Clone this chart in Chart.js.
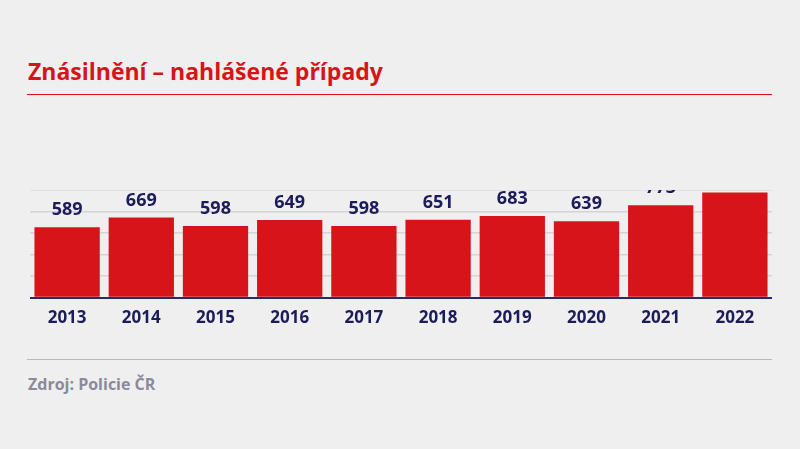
<!DOCTYPE html>
<html><head><meta charset="utf-8">
<script src="https://cdn.jsdelivr.net/npm/chart.js@4"></script>
<style>
body{margin:0;width:800px;height:449px;background:#efefef;position:relative;overflow:hidden;font-family:"Open Sans",sans-serif}
#title{position:absolute;left:28px;top:55px;font-size:23px;font-weight:700;color:#d7141a}
#rule1{position:absolute;left:27px;top:94px;width:745px;height:1px;background:#d7141a}
#rule2{position:absolute;left:27px;top:359px;width:745px;height:1px;background:#b8b8b8}
#src{position:absolute;left:28px;top:373px;font-size:16px;font-weight:700;color:#8a8a9a}
#wrap{position:absolute;left:30px;top:190px;width:742px;height:140px}
</style></head><body>
<div id="title">Znásilnění – nahlášené případy</div>
<div id="rule1"></div>
<div id="wrap"><canvas id="c"></canvas></div>
<div id="rule2"></div>
<div id="src">Zdroj: Policie ČR</div>
<script>
// data
const years = ['2013','2014','2015','2016','2017','2018','2019','2020','2021','2022'];
const cases = [589, 669, 598, 649, 598, 651, 683, 639, 773, 880];

const valueLabels = {
  id: 'valueLabels',
  afterDatasetsDraw(chart) {
    const ctx = chart.ctx;
    const meta = chart.getDatasetMeta(0);
    ctx.save();
    ctx.fillStyle = '#1c1c5a';
    ctx.font = 'bold 18px "Open Sans"';
    ctx.textAlign = 'center';
    ctx.textBaseline = 'bottom';
    meta.data.forEach((bar, i) => {
      ctx.fillText(cases[i], bar.x, bar.y - 8);
    });
    ctx.restore();
  }
};

new Chart(document.getElementById('c'), {
  type: 'bar',
  data: {
    labels: years,
    datasets: [{ data: cases, backgroundColor: '#d7141a', barPercentage: 0.88, categoryPercentage: 1 }]
  },
  options: {
    responsive: true,
    maintainAspectRatio: false,
    animation: false,
    layout: { padding: 0 },
    plugins: { legend: { display: false }, tooltip: { enabled: false } },
    scales: {
      x: {
        grid: { display: false },
        border: { color: '#2a2a6a', width: 2 },
        ticks: { color: '#1c1c5a', font: { family: 'Open Sans', size: 17, weight: 'bold' }, padding: 2 }
      },
      y: {
        min: 0, max: 900,
        afterFit(s) { s.width = 0; },
        ticks: { display: false, stepSize: 180 },
        grid: { color: '#d4d4d4', lineWidth: 1.5, drawTicks: false },
        border: { display: false }
      }
    }
  },
  plugins: [valueLabels]
});
</script>
</body></html>
